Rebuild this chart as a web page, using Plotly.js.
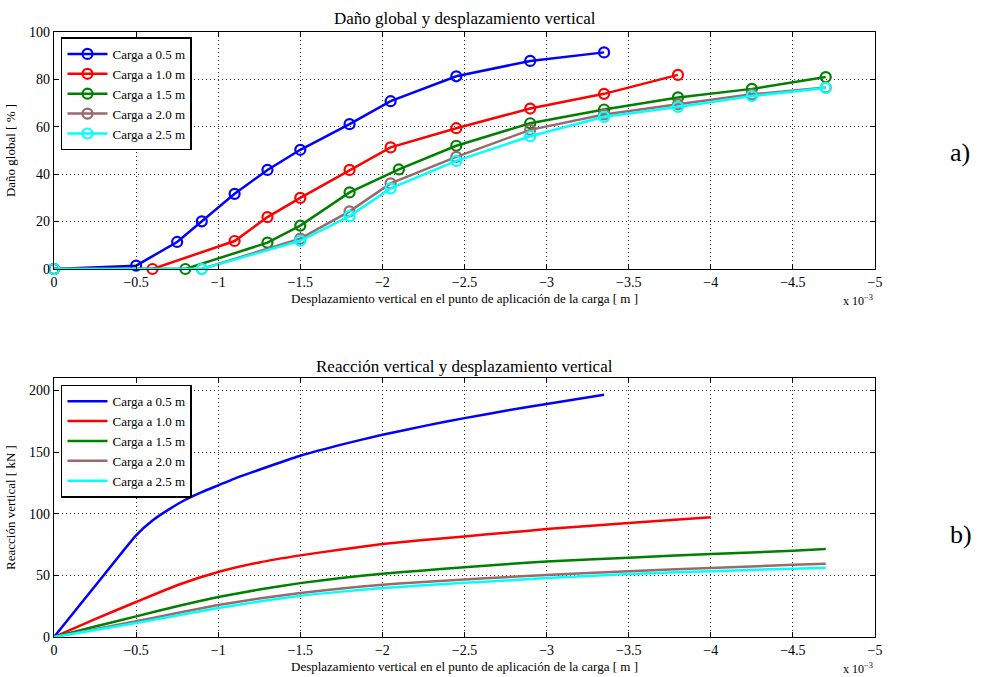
<!DOCTYPE html>
<html>
<head>
<meta charset="utf-8">
<script src="https://cdn.plot.ly/plotly-3.0.1.min.js"></script>
<style>html,body{margin:0;padding:0;background:#fff;}#chart{width:981px;height:677px;}</style>
</head>
<body>
<div id="chart"></div>
<script>
// Displacement values in units of 1e-3 m (axis carries "x 10^-3")
const seriesNames = ["Carga a 0.5 m", "Carga a 1.0 m", "Carga a 1.5 m", "Carga a 2.0 m", "Carga a 2.5 m"];
const seriesColors = ["#0000ff", "#ff0000", "#008000", "#9a6a6a", "#00ffff"];

// Panel a) Daño global [%]
const dmgX05 = [0, -0.5, -0.75, -0.9, -1.1, -1.3, -1.5, -1.8, -2.05, -2.45, -2.9, -3.35];
const dmgY05 = [0, 1.4, 11.4, 20.1, 31.7, 41.8, 50.3, 61.1, 70.8, 81.3, 87.8, 91.4];
const dmgX10 = [0, -0.6, -1.1, -1.3, -1.5, -1.8, -2.05, -2.45, -2.9, -3.35, -3.8];
const dmgY10 = [0, 0, 11.8, 21.9, 30.0, 41.8, 51.3, 59.4, 67.7, 73.9, 81.9];
const dmgX15 = [0, -0.8, -1.3, -1.5, -1.8, -2.1, -2.45, -2.9, -3.35, -3.8, -4.25, -4.7];
const dmgY15 = [0, 0, 11.1, 18.3, 32.3, 42.0, 52.0, 61.5, 67.3, 72.4, 76.0, 81.0];
const dmgX20 = [0, -0.9, -1.5, -1.8, -2.05, -2.45, -2.9, -3.35, -3.8, -4.25, -4.7];
const dmgY20 = [0, 0, 12.8, 24.3, 36.1, 47.3, 58.7, 65.2, 69.5, 73.7, 76.6];
const dmgX25 = [0, -0.9, -1.5, -1.8, -2.05, -2.45, -2.9, -3.35, -3.8, -4.25, -4.7];
const dmgY25 = [0, 0, 11.9, 22.3, 34.0, 45.6, 56.0, 64.2, 68.4, 73.0, 76.4];

// Panel b) Reacción vertical [kN]
const reaX05 = [0, -0.25, -0.5, -0.6, -0.7, -0.8, -0.9, -1.0, -1.1, -1.2, -1.35, -1.5, -1.75, -2.0, -2.25, -2.5, -2.75, -3.0, -3.35];
const reaY05 = [0, 41.3, 82.5, 94.5, 103.5, 111.3, 117.5, 123, 128.5, 133.3, 140.3, 147, 156, 164, 171, 177.5, 183.5, 189, 196.4];
const reaX10 = [0, -0.25, -0.5, -0.75, -1.0, -1.25, -1.5, -1.75, -2.0, -2.25, -2.5, -2.75, -3.0, -3.5, -4.0];
const reaY10 = [0, 14.5, 28.4, 42, 52.7, 60.5, 66.2, 71, 75.4, 78.7, 81.6, 84.5, 87.5, 92.4, 97.2];
const reaX15 = [0, -0.25, -0.5, -0.75, -1.0, -1.25, -1.5, -1.75, -2.0, -2.25, -2.5, -2.75, -3.0, -3.5, -4.0, -4.5, -4.7];
const reaY15 = [0, 8.5, 16.7, 25, 32.4, 38.5, 43.7, 47.8, 51.3, 54, 56.5, 59, 61.2, 64.3, 67.3, 69.9, 71.3];
const reaX20 = [0, -0.25, -0.5, -0.75, -1.0, -1.25, -1.5, -1.75, -2.0, -2.25, -2.5, -2.75, -3.0, -3.5, -4.0, -4.5, -4.7];
const reaY20 = [0, 6.4, 12.7, 19.5, 25.9, 31.2, 35.7, 39.3, 42.4, 44.6, 46.6, 48.5, 50.3, 53.3, 56, 58.5, 59.5];
const reaX25 = [0, -0.25, -0.5, -0.75, -1.0, -1.25, -1.5, -1.75, -2.0, -2.25, -2.5, -2.75, -3.0, -3.5, -4.0, -4.5, -4.7];
const reaY25 = [0, 5.7, 11.3, 17.5, 23.5, 28.8, 33.5, 36.8, 39.7, 41.9, 43.9, 45.8, 47.8, 51, 53.4, 55.4, 56.2];

const xTicks = [0, -0.5, -1, -1.5, -2, -2.5, -3, -3.5, -4, -4.5, -5];
const xTickText = ["0", "\u22120.5", "\u22121", "\u22121.5", "\u22122", "\u22122.5", "\u22123", "\u22123.5", "\u22124", "\u22124.5", "\u22125"];
const yTicksA = [0, 20, 40, 60, 80, 100];
const yTicksB = [0, 50, 100, 150, 200];

const FONT = "'Liberation Serif', 'Times New Roman', serif";
const dmgX = [dmgX05, dmgX10, dmgX15, dmgX20, dmgX25];
const dmgY = [dmgY05, dmgY10, dmgY15, dmgY20, dmgY25];
const reaX = [reaX05, reaX10, reaX15, reaX20, reaX25];
const reaY = [reaY05, reaY10, reaY15, reaY20, reaY25];

const traces = [];
for (let i = 0; i < 5; i++) {
  traces.push({
    x: dmgX[i], y: dmgY[i], type: 'scatter', mode: 'lines+markers',
    name: seriesNames[i], xaxis: 'x', yaxis: 'y', legend: 'legend',
    line: {color: seriesColors[i], width: 2.5},
    marker: {symbol: 'circle-open', size: 10, color: seriesColors[i], line: {width: 2.2, color: seriesColors[i]}},
    cliponaxis: false
  });
}
for (let i = 0; i < 5; i++) {
  traces.push({
    x: reaX[i], y: reaY[i], type: 'scatter', mode: 'lines',
    name: seriesNames[i], xaxis: 'x2', yaxis: 'y2', legend: 'legend2',
    line: {color: seriesColors[i], width: 2.5, shape: 'spline', smoothing: 0.5}
  });
}

const axisCommon = {
  showline: true, linecolor: '#000', linewidth: 1.3, mirror: 'ticks',
  ticks: 'inside', ticklen: 5, tickcolor: '#000', tickwidth: 1,
  showgrid: true, gridcolor: '#333', griddash: '1px,3px', gridwidth: 1,
  zeroline: false,
  tickfont: {family: FONT, size: 14, color: '#000'}
};
const xTitle = "Desplazamiento vertical en el punto de aplicación de la carga [ m ]";

const legendCommon = {
  xanchor: 'left', yanchor: 'top',
  bgcolor: '#fff', bordercolor: '#000', borderwidth: 1.5,
  font: {family: FONT, size: 13, color: '#000'}, tracegroupgap: 0, itemwidth: 40
};

const layout = {
  width: 981, height: 677,
  margin: {l: 54, r: 106, t: 32, b: 40},
  paper_bgcolor: '#fff', plot_bgcolor: '#fff',
  font: {family: FONT, color: '#000'},
  xaxis: Object.assign({}, axisCommon, {
    anchor: 'y', range: [0, -5], tickmode: 'array', tickvals: xTicks, ticktext: xTickText,
    title: {text: xTitle, font: {family: FONT, size: 13}, standoff: 4}
  }),
  yaxis: Object.assign({}, axisCommon, {
    domain: [0.6083, 1], range: [0, 100], tickmode: 'array', tickvals: yTicksA,
    title: {text: "Daño global [ % ]", font: {family: FONT, size: 13}, standoff: 10}
  }),
  xaxis2: Object.assign({}, axisCommon, {
    anchor: 'y2', range: [0, -5], tickmode: 'array', tickvals: xTicks, ticktext: xTickText,
    title: {text: xTitle, font: {family: FONT, size: 13}, standoff: 4}
  }),
  yaxis2: Object.assign({}, axisCommon, {
    domain: [0, 0.428], range: [0, 210], tickmode: 'array', tickvals: yTicksB,
    title: {text: "Reacción vertical [ kN ]", font: {family: FONT, size: 13}, standoff: 10}
  }),
  legend: Object.assign({}, legendCommon, {x: 0.0085, y: 0.991}),
  legend2: Object.assign({}, legendCommon, {x: 0.0085, y: 0.417}),
  showlegend: true,
  annotations: [
    {text: "Daño global y desplazamiento vertical", xref: 'paper', yref: 'paper', x: 0.5, y: 1.0, yshift: 2,
     xanchor: 'center', yanchor: 'bottom', showarrow: false, font: {family: FONT, size: 17}},
    {text: "Reacción vertical y desplazamiento vertical", xref: 'paper', yref: 'paper', x: 0.5, y: 0.428, yshift: 0,
     xanchor: 'center', yanchor: 'bottom', showarrow: false, font: {family: FONT, size: 17}},
    {text: "x 10<sup>\u22123</sup>", xref: 'paper', yref: 'paper', x: 1.0, y: 0.6083, yshift: -22,
     xanchor: 'right', yanchor: 'top', showarrow: false, font: {family: FONT, size: 12}},
    {text: "x 10<sup>\u22123</sup>", xref: 'paper', yref: 'paper', x: 1.0, y: 0, yshift: -22,
     xanchor: 'right', yanchor: 'top', showarrow: false, font: {family: FONT, size: 12}},
    {text: "a)", xref: 'paper', yref: 'paper', x: 1.0, xshift: 73, y: 0.8, xanchor: 'left', yanchor: 'middle',
     showarrow: false, font: {family: FONT, size: 26}},
    {text: "b)", xref: 'paper', yref: 'paper', x: 1.0, xshift: 73, y: 0.17, xanchor: 'left', yanchor: 'middle',
     showarrow: false, font: {family: FONT, size: 26}}
  ]
};

Plotly.newPlot('chart', traces, layout, {displayModeBar: false, staticPlot: true});
</script>
</body>
</html>
